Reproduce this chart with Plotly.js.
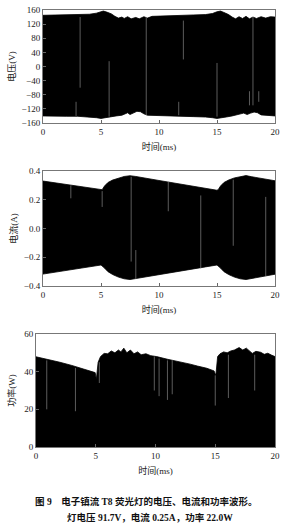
<!DOCTYPE html>
<html>
<head>
<meta charset="utf-8">
<script src="https://cdn.plot.ly/plotly-3.0.1.min.js"></script>
<style>html,body{margin:0;padding:0;background:#fff;}#chart{width:284px;height:529px;}</style>
</head>
<body>
<div id="chart"></div>
<script>
// ---- Voltage envelope (V) ----
var vUpT = [0, 1, 2, 3, 4, 4.6, 5.0, 5.2, 5.5, 5.9, 6.2, 6.5, 6.8, 7.0, 7.3, 7.6, 8.0, 8.3, 8.7, 9.0, 9.4, 10, 11, 12, 13, 14, 14.6, 15.0, 15.3, 15.6, 16.0, 16.3, 16.6, 16.9, 17.2, 17.5, 17.8, 18.1, 18.4, 18.8, 19.2, 19.6, 20];
var vUp  = [145, 146, 146, 147, 148, 151, 156, 157, 154, 149, 142, 137, 140, 136, 141, 135, 139, 135, 141, 137, 142, 143, 144, 145, 146, 147, 150, 155, 157, 153, 147, 140, 135, 141, 136, 142, 135, 140, 136, 141, 137, 141, 140];
var vLoT = [0, 1, 2, 3, 4, 4.6, 5.0, 5.4, 5.8, 6.3, 6.8, 7.1, 7.3, 7.5, 7.8, 8.1, 8.4, 8.7, 9.0, 9.5, 10, 11, 12, 13, 14, 14.6, 15.0, 15.4, 15.8, 16.3, 16.8, 17.1, 17.3, 17.6, 17.9, 18.2, 18.5, 18.8, 19.3, 20];
var vLo  = [-140, -140, -141, -141, -143, -145, -147, -146, -143, -140, -138, -134, -131, -136, -131, -127, -128, -134, -138, -140, -140, -141, -141, -142, -143, -145, -147, -146, -143, -140, -137, -134, -132, -136, -132, -129, -131, -137, -139, -140];
var vGapX   = [2.85, 3.2, 5.7, 8.9, 11.7, 12.1, 15.0, 17.8, 18.1, 18.6];
var vGapTop = [-100, 140, 15, 140, -100, 130, 10, -70, 140, -70];
var vGapBot = [-140, -60, -142, -138, -138, 20, -142, -110, -110, -100];

// ---- Current envelope (A) ----
var iUpT = [0, 5.0, 5.1, 5.3, 5.6, 6.0, 6.5, 7.0, 7.5, 8.0, 10, 12, 14, 15.0, 15.1, 15.3, 15.6, 16.0, 16.5, 17.0, 17.5, 18.0, 18.5, 19.0, 19.5, 20];
var iUp  = [0.330, 0.266, 0.270, 0.295, 0.320, 0.337, 0.352, 0.362, 0.367, 0.362, 0.334, 0.307, 0.280, 0.266, 0.270, 0.295, 0.320, 0.337, 0.352, 0.362, 0.368, 0.360, 0.352, 0.345, 0.340, 0.332];
var iLoT = [0, 5.0, 5.1, 5.3, 5.6, 6.0, 6.5, 7.0, 7.5, 8.0, 10, 12, 14, 15.0, 15.1, 15.3, 15.6, 16.0, 16.5, 17.0, 17.5, 18.0, 19.0, 20];
var iLo  = [-0.317, -0.254, -0.258, -0.275, -0.300, -0.320, -0.338, -0.350, -0.355, -0.350, -0.321, -0.294, -0.267, -0.254, -0.258, -0.275, -0.300, -0.320, -0.338, -0.350, -0.355, -0.350, -0.333, -0.318];
var iGapX   = [2.4, 5.1, 7.6, 8.0, 10.8, 13.6, 16.4, 19.2];
var iGapTop = [0.30, 0.26, 0.36, -0.15, 0.33, 0.23, 0.34, 0.22];
var iGapBot = [0.21, 0.15, -0.23, -0.35, 0.12, -0.28, -0.12, -0.33];

// ---- Power envelope (W) ----
var pUpT = [0, 1, 2, 3, 4, 4.5, 4.95, 5.05, 5.2, 5.4, 5.7, 6.0, 6.3, 6.6, 6.9, 7.1, 7.35, 7.6, 7.9, 8.2, 8.5, 8.8, 9.2, 9.6, 10.1, 11, 11.5, 12, 12.9, 13.5, 14.3, 14.9, 15.05, 15.2, 15.4, 15.7, 16.0, 16.3, 16.6, 17.0, 17.3, 17.6, 17.9, 18.1, 18.4, 18.8, 19.1, 19.4, 19.7, 20];
var pUp  = [47.9, 46.5, 45, 43.3, 41.5, 40.6, 39.5, 36, 45, 48, 49.7, 49.5, 51, 50, 51.5, 50.5, 52.5, 50, 51.5, 49.5, 50.5, 49, 49.5, 48.5, 48, 46.6, 46, 45.2, 44, 43, 41.8, 40.4, 38, 48, 49.5, 50.5, 50, 51, 51.5, 52.8, 51.5, 52.5, 50.5, 49.7, 50.8, 50.3, 49.2, 49.8, 48.8, 48];
var pGapX   = [0.9, 3.3, 5.3, 9.9, 10.3, 11.0, 11.4, 15.0, 16.1, 18.3];
var pGapTop = [46, 42, 45, 48, 47, 46, 46, 38, 49, 49];
var pGapBot = [20, 19, 34, 30, 27, 25, 28, 22, 26, 30];

var categoriesX = [0, 5, 10, 15, 20];

function envelope(tUp, up, tLo, lo) {
  var x = tUp.slice(), y = up.slice();
  for (var i = tLo.length - 1; i >= 0; i--) { x.push(tLo[i]); y.push(lo[i]); }
  x.push(tUp[0]); y.push(up[0]);
  return {x: x, y: y};
}
function gaps(gx, gt, gb) {
  var x = [], y = [];
  for (var i = 0; i < gx.length; i++) { x.push(gx[i], gx[i], null); y.push(gt[i], gb[i], null); }
  return {x: x, y: y};
}

var ev = envelope(vUpT, vUp, vLoT, vLo);
var ei = envelope(iUpT, iUp, iLoT, iLo);
var gv = gaps(vGapX, vGapTop, vGapBot);
var gi = gaps(iGapX, iGapTop, iGapBot);
var gp = gaps(pGapX, pGapTop, pGapBot);

var gapLine = {color: '#9a9a9a', width: 0.6};
var traces = [
  {x: ev.x, y: ev.y, xaxis: 'x', yaxis: 'y', mode: 'lines', fill: 'toself', fillcolor: '#000', line: {color: '#000', width: 0.8}, hoverinfo: 'skip'},
  {x: gv.x, y: gv.y, xaxis: 'x', yaxis: 'y', mode: 'lines', line: gapLine, hoverinfo: 'skip'},
  {x: ei.x, y: ei.y, xaxis: 'x2', yaxis: 'y2', mode: 'lines', fill: 'toself', fillcolor: '#000', line: {color: '#000', width: 0.8}, hoverinfo: 'skip'},
  {x: gi.x, y: gi.y, xaxis: 'x2', yaxis: 'y2', mode: 'lines', line: gapLine, hoverinfo: 'skip'},
  {x: pUpT, y: pUp, xaxis: 'x3', yaxis: 'y3', mode: 'lines', fill: 'tozeroy', fillcolor: '#000', line: {color: '#000', width: 0.8}, hoverinfo: 'skip'},
  {x: gp.x, y: gp.y, xaxis: 'x3', yaxis: 'y3', mode: 'lines', line: gapLine, hoverinfo: 'skip'}
];

var W = 284, H = 529;
var tickFont = {family: 'Liberation Serif, Noto Sans CJK SC, serif', size: 9, color: '#222'};
var titleFont = {family: 'Liberation Serif, Noto Sans CJK SC, serif', size: 9, color: '#222'};
function xax(l, r, b, anchor) {
  return {domain: [l / W, r / W], range: [0, 20], tickvals: categoriesX, ticks: 'inside', ticklen: 3, tickcolor: '#666',
    showline: true, linecolor: '#777', linewidth: 1, mirror: true, showgrid: false, zeroline: false, anchor: anchor,
    tickfont: tickFont, title: {text: '时间(ms)', font: titleFont, standoff: 7}, fixedrange: true};
}
function yax(top, bot, range, dtick, fmt, title, anchor, standoff) {
  return {domain: [(H - bot) / H, (H - top) / H], range: range, dtick: dtick, tick0: 0, tickformat: fmt, ticks: 'inside', ticklen: 3, tickcolor: '#666',
    showline: true, linecolor: '#777', linewidth: 1, mirror: true, showgrid: false, zeroline: false, anchor: anchor,
    tickfont: tickFont, title: {text: title, font: titleFont, standoff: standoff}, fixedrange: true};
}

var layout = {
  width: W, height: H, margin: {l: 0, r: 0, t: 0, b: 0}, showlegend: false,
  paper_bgcolor: '#fff', plot_bgcolor: '#fff',
  xaxis: xax(43, 275, 123, 'y'),
  yaxis: yax(10, 123, [-160, 160], 40, 'd', '电压(V)', 'x', 4),
  xaxis2: xax(43, 275, 286, 'y2'),
  yaxis2: yax(171, 286, [-0.4, 0.4], 0.2, '.1f', '电流(A)', 'x2', 4),
  xaxis3: xax(36, 275, 447, 'y3'),
  yaxis3: yax(334, 447, [0, 60], 20, 'd', '功率(W)', 'x3', 7),
  annotations: [
    {xref: 'paper', yref: 'paper', x: 146 / W, y: (H - 501) / H, xanchor: 'center', yanchor: 'middle', showarrow: false,
     text: '<b>图 9　电子镇流 T8 荧光灯的电压、电流和功率波形。</b>', font: {family: 'Liberation Serif, Noto Sans CJK SC, serif', size: 9.5, color: '#111'}},
    {xref: 'paper', yref: 'paper', x: 150 / W, y: (H - 517) / H, xanchor: 'center', yanchor: 'middle', showarrow: false,
     text: '<b>灯电压 91.7V，电流 0.25A，功率 22.0W</b>', font: {family: 'Liberation Serif, Noto Sans CJK SC, serif', size: 9.5, color: '#111'}}
  ]
};

Plotly.newPlot('chart', traces, layout, {displayModeBar: false, staticPlot: true});
</script>
</body>
</html>
